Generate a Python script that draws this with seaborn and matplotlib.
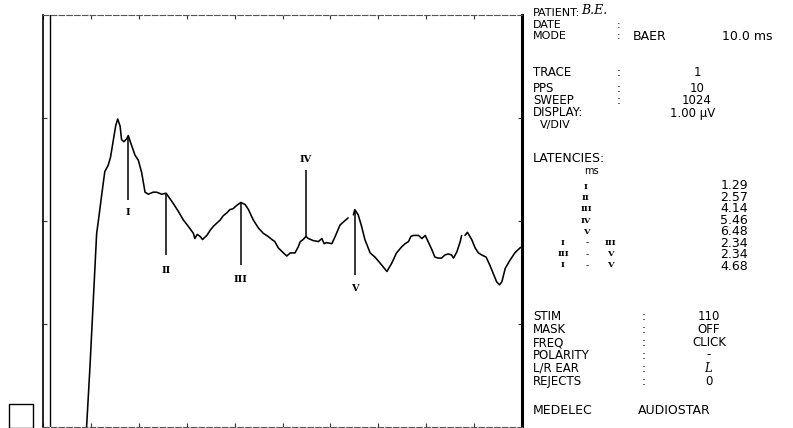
import matplotlib
matplotlib.use("Agg")
import matplotlib.pyplot as plt
import matplotlib.patches as mpatches
import pandas as pd
import seaborn as sns

W, H = 793, 428

# BAER trace (ms, uV above the bottom of the screen)
seg1_ms = [0.89, 0.91, 0.98, 1.05, 1.12, 1.15, 1.23, 1.29, 1.36, 1.41, 1.47, 1.52, 1.56, 1.61, 1.64,
           1.69, 1.75, 1.78, 1.83, 1.92, 1.99, 2.06, 2.13, 2.20, 2.30, 2.37, 2.48, 2.57, 2.72, 2.83,
           2.93, 3.03, 3.14, 3.17, 3.22, 3.28, 3.33, 3.42, 3.49, 3.56, 3.63, 3.70, 3.76, 3.84, 3.90,
           3.97, 4.04, 4.13, 4.22, 4.29, 4.39, 4.50, 4.60, 4.70, 4.78, 4.84, 4.91, 5.02, 5.09, 5.16,
           5.26, 5.33, 5.37, 5.43, 5.49, 5.54, 5.64, 5.75, 5.82, 5.87, 5.92, 6.03, 6.10, 6.20, 6.27,
           6.37]
seg1_uv = [-0.20, 0.00, 0.58, 1.23, 1.88, 1.98, 2.27, 2.48, 2.54, 2.62, 2.79, 2.93, 2.99, 2.92, 2.79,
           2.77, 2.80, 2.83, 2.76, 2.64, 2.59, 2.47, 2.28, 2.26, 2.28, 2.28, 2.26, 2.27, 2.17, 2.09,
           2.01, 1.95, 1.88, 1.83, 1.87, 1.85, 1.82, 1.86, 1.91, 1.95, 1.98, 2.01, 2.05, 2.08, 2.11,
           2.12, 2.15, 2.18, 2.16, 2.11, 2.01, 1.93, 1.88, 1.85, 1.82, 1.80, 1.74, 1.69, 1.66, 1.69,
           1.69, 1.75, 1.80, 1.82, 1.85, 1.83, 1.81, 1.80, 1.83, 1.78, 1.79, 1.78, 1.85, 1.96, 1.99,
           2.03]
seg2_ms = [6.48, 6.51, 6.58, 6.65, 6.72, 6.83, 6.93, 7.04, 7.18, 7.28, 7.38, 7.49, 7.56, 7.63, 7.68,
           7.73, 7.84, 7.91, 7.98, 8.04, 8.12, 8.18, 8.25, 8.32, 8.39, 8.46, 8.53, 8.57, 8.64, 8.71,
           8.74]
seg2_uv = [2.06, 2.11, 2.06, 1.95, 1.82, 1.69, 1.65, 1.59, 1.51, 1.59, 1.69, 1.75, 1.78, 1.80, 1.85,
           1.86, 1.86, 1.83, 1.86, 1.80, 1.72, 1.65, 1.64, 1.64, 1.67, 1.68, 1.67, 1.64, 1.70, 1.80,
           1.86]
seg3_ms = [8.81, 8.86, 8.95, 9.02, 9.09, 9.16, 9.25, 9.33, 9.40, 9.47, 9.53, 9.58, 9.65, 9.75, 9.85,
           9.96, 10.0]
seg3_uv = [1.86, 1.89, 1.82, 1.74, 1.69, 1.67, 1.65, 1.57, 1.49, 1.41, 1.38, 1.41, 1.54, 1.62, 1.69,
           1.74, 1.75]

# wave markers
marker_names = ["I", "II", "III", "IV", "V"]
marker_ms = [1.78, 2.57, 4.13, 5.49, 6.51]
marker_top = [2.83, 2.27, 2.18, 2.50, 2.11]
marker_bottom = [2.20, 1.67, 1.57, 1.85, 1.48]
label_uv = [2.08, 1.52, 1.43, 2.60, 1.34]

# settings panel
latency_rows = [("I", "", ""), ("II", "", ""), ("III", "", ""), ("IV", "", ""), ("V", "", ""),
                ("I", "-", "III"), ("III", "-", "V"), ("I", "-", "V")]
latency_values = ["1.29", "2.57", "4.14", "5.46", "6.48", "2.34", "2.34", "4.68"]
stim_labels = ["STIM", "MASK", "FREQ", "POLARITY", "L/R EAR", "REJECTS"]
stim_values = ["110", "OFF", "CLICK", "-", r"$\mathit{L}$", "0"]

frames = []
for i, (xs, ys) in enumerate([(seg1_ms, seg1_uv), (seg2_ms, seg2_uv), (seg3_ms, seg3_uv)]):
    frames.append(pd.DataFrame({"ms": xs, "uv": ys, "segment": i}))
trace_df = pd.concat(frames, ignore_index=True)

sns.set_theme(style="white")
plt.rcParams["font.family"] = ["DejaVu Sans"]
plt.rcParams["text.color"] = "black"
plt.rcParams["mathtext.fontset"] = "dejavuserif"

fig = plt.figure(figsize=(W / 100, H / 100), dpi=100)
fig.patch.set_facecolor("white")
ax = fig.add_axes([43 / W, 1 / H, (522 - 43) / W, (427 - 15) / H])

sns.lineplot(data=trace_df, x="ms", y="uv", units="segment", estimator=None, sort=False,
             color="black", lw=1.15, ax=ax, legend=False)

ax.vlines(marker_ms, marker_bottom, marker_top, color="black", lw=1.1)
for name, x, y in zip(marker_names, marker_ms, label_uv):
    ax.text(x, y, name, ha="center", va="center", fontsize=7, family="DejaVu Serif", weight="bold")

ax.axvline(0.15, color="black", lw=1.0)
ax.set_xlim(0, 10)
ax.set_ylim(0, 4)
ax.set_xticks(range(0, 11))
ax.set_yticks([1, 2, 3])
ax.set_xlabel("")
ax.set_ylabel("")
ax.tick_params(direction="in", length=3, width=0.8, color="#333333", top=True, bottom=True,
               left=True, right=True, labelbottom=False, labelleft=False)
ax.spines["left"].set(color="black", lw=1.2)
ax.spines["right"].set(color="black", lw=2.2)
for s in ["top", "bottom"]:
    ax.spines[s].set(color="#555555", lw=0.8, linestyle=(0, (5, 2)))

# little box bottom-left
fig.add_artist(mpatches.Rectangle((9 / W, 0), 24 / W, 24 / H, transform=fig.transFigure,
                                  fill=False, ec="black", lw=1.0))


def ftext(x, y, s, **kw):
    kw.setdefault("fontsize", 8.5)
    kw.setdefault("va", "center")
    kw.setdefault("color", "black")
    fig.text(x / W, 1 - y / H, s, **kw)


ftext(533, 13, "PATIENT:", fontsize=8)
ftext(581, 10, "B.E.", family="DejaVu Serif", style="italic", fontsize=9)
ftext(533, 25, "DATE", fontsize=8)
ftext(617, 25, ":", fontsize=8)
ftext(533, 36, "MODE", fontsize=8)
ftext(617, 36, ":", fontsize=8)
ftext(633, 36, "BAER", fontsize=9)
ftext(722, 36, "10.0 ms", fontsize=9)

top_labels = ["TRACE", "PPS", "SWEEP"]
top_values = ["1", "10", "1024"]
for lab, val, y in zip(top_labels, top_values, [72, 89, 101]):
    ftext(533, y, lab)
    ftext(617, y, ":")
    ftext(697, y, val, ha="center")
ftext(533, 113, "DISPLAY:")
ftext(670, 113, "1.00 µV")
ftext(540, 125, "V/DIV", fontsize=8)

ftext(533, 158, "LATENCIES:", fontsize=9)
ftext(584, 171, "ms", fontsize=7)
for k, (a, dash, b) in enumerate(latency_rows):
    y = 187 + k * 11.2
    if dash:
        ftext(563, y, a, ha="center", family="DejaVu Serif", weight="bold", fontsize=6)
        ftext(587, y, dash, ha="center", fontsize=6.5)
        ftext(610, y, b, ha="center", family="DejaVu Serif", weight="bold", fontsize=6)
    else:
        ftext(586, y, a, ha="center", family="DejaVu Serif", weight="bold", fontsize=6)
# values column as one block of lines, pitch ~11.2 px
ftext(748, 187 + 3.5 * 11.2, "\n".join(latency_values), ha="right", fontsize=9,
      linespacing=0.85)

# stim block, pitch ~12.8 px
ls = 0.99
ftext(533, 317 + 2.5 * 12.8, "\n".join(stim_labels), linespacing=ls)
ftext(642, 317 + 2.5 * 12.8, "\n".join([":"] * len(stim_labels)), linespacing=ls)
ftext(709, 317 + 2.5 * 12.8, "\n".join(stim_values), ha="center", linespacing=ls,
      multialignment="center")

ftext(533, 411, "MEDELEC", fontsize=9)
ftext(638, 411, "AUDIOSTAR", fontsize=9)

fig.savefig("out.png", dpi=100)
